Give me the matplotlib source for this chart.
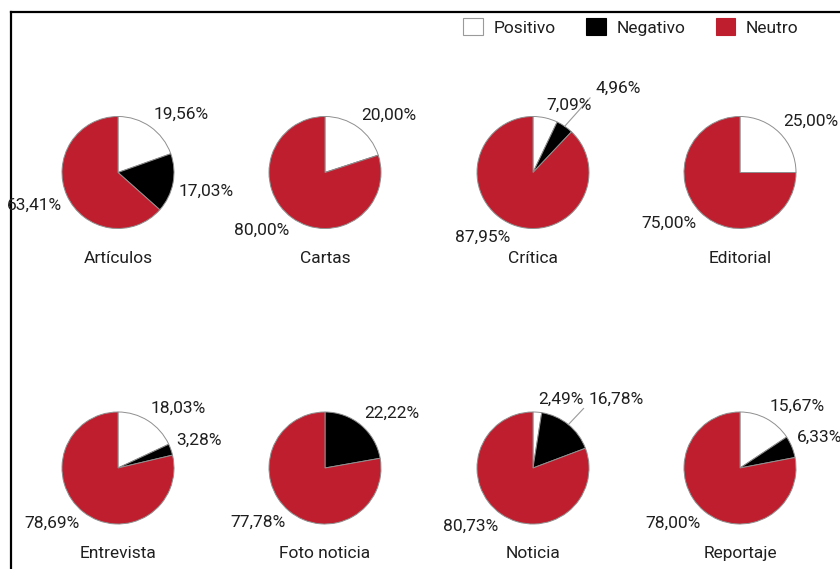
import numpy as np
import matplotlib
matplotlib.use("Agg")
import matplotlib.pyplot as plt
from matplotlib.patches import Patch
from matplotlib.lines import Line2D

# ---------------- data ----------------
categories = ["Artículos", "Cartas", "Crítica", "Editorial",
              "Entrevista", "Foto noticia", "Noticia", "Reportaje"]
series = ["Positivo", "Negativo", "Neutro"]
positivo = [19.56, 20.00, 7.09, 25.00, 18.03, 0.00, 2.49, 15.67]
negativo = [17.03, 0.00, 4.96, 0.00, 3.28, 22.22, 16.78, 6.33]
neutro = [63.41, 80.00, 87.95, 75.00, 78.69, 77.78, 80.73, 78.00]

# ---------------- style / layout ----------------
W, H = 840, 569
colors = ["#ffffff", "#000000", "#be1e2d"]
edge = "#8f8f8f"
txt_color = "#1f1f1f"
FONT = "Roboto"
FS = 12.5
col_x = [118, 325, 533, 740]
row_y = [172.5, 468]
R = 56
# labels pulled out with a leader line: (category, series index) -> (dist factor, angle deg)
leaders = {("Crítica", 1): (1.76, 51.0), ("Noticia", 1): (1.48, 47.9)}

plt.rcParams["font.family"] = [FONT, "DejaVu Sans"]
fig = plt.figure(figsize=(W / 100, H / 100), dpi=100)
ax = fig.add_axes([0, 0, 1, 1])


def fmt(v):
    return f"{v:.2f}".replace(".", ",") + "%"


for i, cat in enumerate(categories):
    cx = col_x[i % 4]
    cy = H - row_y[i // 4]
    vals = [positivo[i], negativo[i], neutro[i]]
    ax.pie(vals, colors=colors, startangle=90, counterclock=False,
           center=(cx, cy), radius=R,
           wedgeprops=dict(edgecolor=edge, linewidth=0.7))
    start = 90.0
    for j, v in enumerate(vals):
        span = 360.0 * v / sum(vals)
        mid = np.deg2rad(start - span / 2)
        start -= span
        if v <= 0:
            continue
        if (cat, j) in leaders:
            d, ang = leaders[(cat, j)]
            a = np.deg2rad(ang)
            tx, ty = cx + d * R * np.cos(a), cy + d * R * np.sin(a)
            ax.plot([cx + R * np.cos(mid), tx - 5], [cy + R * np.sin(mid), ty - 2],
                    color="#9a9a9a", lw=0.8)
            ax.text(tx, ty, fmt(v), ha="left", va="bottom", fontsize=FS,
                    color=txt_color)
            continue
        tx, ty = cx + 1.1 * R * np.cos(mid), cy + 1.1 * R * np.sin(mid)
        ha = "left" if np.cos(mid) >= 0 else "right"
        va = "bottom" if np.sin(mid) >= 0 else "top"
        ax.text(tx, ty, fmt(v), ha=ha, va=va, fontsize=FS, color=txt_color)
    ax.text(cx, cy - 1.535 * R, cat, ha="center", va="center", fontsize=FS,
            color=txt_color)

ax.set_xlim(0, W)
ax.set_ylim(0, H)
ax.set_aspect("auto")
ax.axis("off")

# frame (top and left edges visible)
ax.add_line(Line2D([10.5, 10.5], [-10, H - 11.5], color="black", lw=1.6, clip_on=False))
ax.add_line(Line2D([10.5, W + 10], [H - 11.5, H - 11.5], color="black", lw=1.6, clip_on=False))

handles = [Patch(facecolor=c, edgecolor="#9a9a9a" if c == "#ffffff" else c, lw=0.8)
           for c in colors]
leg = ax.legend(handles, series, loc="center left", bbox_to_anchor=(463 / W, 1 - 27 / H),
                ncol=3, frameon=False, fontsize=FS, handlelength=1.15, handleheight=1.15,
                handletextpad=0.6, columnspacing=1.75, borderpad=0, borderaxespad=0)
for t in leg.get_texts():
    t.set_color(txt_color)

fig.savefig("out.png", dpi=100)
